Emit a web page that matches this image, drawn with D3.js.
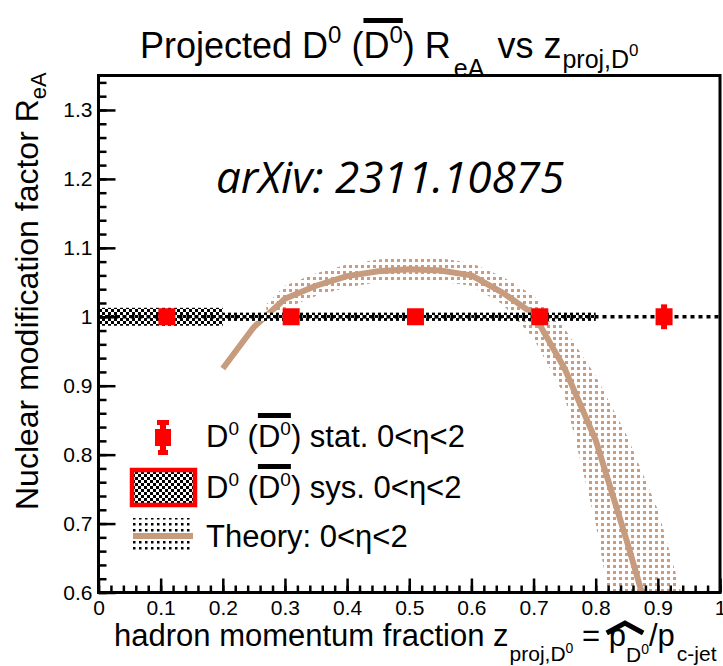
<!DOCTYPE html>
<html>
<head>
<meta charset="utf-8">
<script src="https://cdn.jsdelivr.net/npm/d3@7"></script>
<style>
  html, body { margin: 0; padding: 0; background: #fff; overflow: hidden; }
  text { font-family: "Liberation Sans", Arial, Helvetica, sans-serif; white-space: pre; fill: #000; }
</style>
</head>
<body>
<svg id="chart" width="723" height="666"></svg>
<script>
// ---- data ----
const xMajorTicks = [0, 0.1, 0.2, 0.3, 0.4, 0.5, 0.6, 0.7, 0.8, 0.9, 1];
const xTickLabels = ["0", "0.1", "0.2", "0.3", "0.4", "0.5", "0.6", "0.7", "0.8", "0.9", "1"];
const yMajorTicks = [0.6, 0.7, 0.8, 0.9, 1.0, 1.1, 1.2, 1.3];
const yTickLabels = ["0.6", "0.7", "0.8", "0.9", "1", "1.1", "1.2", "1.3"];

// measured points (projected R_eA)
const pointX = [0.11, 0.31, 0.51, 0.71, 0.91];
const pointY = [1.0, 1.0, 1.0, 1.0, 1.0];
const statErr = [0.005, 0.005, 0.005, 0.005, 0.018];

// systematic boxes (bin edges and half-height)
const sysLow = [0.0, 0.2, 0.4, 0.6];
const sysHigh = [0.2, 0.4, 0.6, 0.8];
const sysCenter = [1.0, 1.0, 1.0, 1.0];
const sysErr = [0.013, 0.006, 0.006, 0.006];

// theory central curve
const theoryX = [0.2, 0.25, 0.3, 0.35, 0.4, 0.45, 0.5, 0.55, 0.6, 0.65, 0.7, 0.75, 0.8, 0.85, 0.9];
const theoryY = [0.925, 0.985, 1.026, 1.045, 1.059, 1.066, 1.069, 1.067, 1.060, 1.035, 1.004, 0.925, 0.821, 0.675, 0.52];

// theory uncertainty band
const bandX  = [0.27, 0.3, 0.35, 0.4, 0.45, 0.5, 0.55, 0.6, 0.65, 0.7, 0.75, 0.8, 0.85, 0.9, 0.95];
const bandLo = [1.0, 1.012, 1.03, 1.043, 1.05, 1.053, 1.051, 1.045, 1.018, 0.969, 0.885, 0.70, 0.45, 0.3, 0.2];
const bandHi = [1.018, 1.045, 1.063, 1.076, 1.083, 1.086, 1.085, 1.078, 1.058, 1.031, 0.983, 0.914, 0.828, 0.72, 0.56];

const refLine = 1.0;

(function draw() {
  const theoryColor = "#c79b7d";
  const dotColor = "#c99c7e";
  const svg = d3.select("#chart");
  const pl = 98.5, pr = 720, pt = 75.5, pb = 592.5;

  const x = d3.scaleLinear().domain([0, 1]).range([pl, pr]);
  const y = d3.scaleLinear().domain([0.6, 1.35]).range([pb, pt]);

  // fill patterns
  const defs = svg.append("defs");
  const checker = defs.append("pattern").attr("id", "checker")
    .attr("patternUnits", "userSpaceOnUse").attr("width", 6).attr("height", 6);
  checker.append("rect").attr("width", 6).attr("height", 6).attr("fill", "#fff");
  checker.append("rect").attr("x", 0).attr("y", 0).attr("width", 3).attr("height", 3).attr("fill", "#000");
  checker.append("rect").attr("x", 3).attr("y", 3).attr("width", 3).attr("height", 3).attr("fill", "#000");

  const brownDots = defs.append("pattern").attr("id", "brownDots")
    .attr("patternUnits", "userSpaceOnUse").attr("width", 6).attr("height", 6);
  brownDots.append("rect").attr("x", 1).attr("y", 1).attr("width", 3).attr("height", 3)
    .attr("fill", dotColor);

  const blackDots = defs.append("pattern").attr("id", "blackDots")
    .attr("patternUnits", "userSpaceOnUse").attr("width", 6).attr("height", 6);
  blackDots.append("rect").attr("width", 6).attr("height", 6).attr("fill", "#fff");
  blackDots.append("rect").attr("x", 1).attr("y", 1).attr("width", 2.5).attr("height", 2.5).attr("fill", "#000");

  defs.append("clipPath").attr("id", "plotClip").append("rect")
    .attr("x", pl).attr("y", pt).attr("width", pr - pl).attr("height", pb - pt);

  // ---- data layers ----
  const plot = svg.append("g").attr("clip-path", "url(#plotClip)");

  const bandData = bandX.map((d, i) => ({ x: d, lo: bandLo[i], hi: bandHi[i] }));
  plot.append("path").datum(bandData)
    .attr("fill", "url(#brownDots)")
    .attr("d", d3.area().x(d => x(d.x)).y0(d => y(d.lo)).y1(d => y(d.hi)));

  const theoryData = theoryX.map((d, i) => ({ x: d, y: theoryY[i] }));
  plot.append("path").datum(theoryData)
    .attr("fill", "none").attr("stroke", theoryColor).attr("stroke-width", 6)
    .attr("stroke-linejoin", "round")
    .attr("d", d3.line().x(d => x(d.x)).y(d => y(d.y)));

  plot.selectAll("rect.sys")
    .data(sysLow.map((d, i) => ({ lo: d, hi: sysHigh[i], c: sysCenter[i], e: sysErr[i] })))
    .join("rect").attr("class", "sys")
    .attr("x", d => x(d.lo)).attr("width", d => x(d.hi) - x(d.lo))
    .attr("y", d => y(d.c + d.e)).attr("height", d => y(d.c - d.e) - y(d.c + d.e))
    .attr("fill", "url(#checker)");

  plot.append("line")
    .attr("x1", pl).attr("x2", pr).attr("y1", y(refLine)).attr("y2", y(refLine))
    .attr("stroke", "#000").attr("stroke-width", 3.5).attr("stroke-dasharray", "4,4");

  const pts = pointX.map((d, i) => ({ x: d, y: pointY[i], e: statErr[i] }));
  plot.selectAll("rect.err").data(pts).join("rect").attr("class", "err")
    .attr("x", d => x(d.x) - 3).attr("width", 6)
    .attr("y", d => y(d.y + d.e)).attr("height", d => y(d.y - d.e) - y(d.y + d.e))
    .attr("fill", "#ff0000");
  plot.selectAll("rect.mk").data(pts).join("rect").attr("class", "mk")
    .attr("x", d => x(d.x) - 8.5).attr("y", d => y(d.y) - 8.5)
    .attr("width", 17).attr("height", 17).attr("fill", "#ff0000");

  // ---- axes ----
  function styleAxis(g) {
    g.select(".domain").remove();
    g.selectAll(".tick line").attr("stroke", "#000").attr("stroke-width", 2.5);
    g.selectAll(".tick text").style("font-size", "21px").attr("fill", "#000")
      .style("font-family", '"Liberation Sans", Arial, sans-serif');
  }
  const dropLabels = g => g.selectAll(".tick text").remove();

  svg.append("g").attr("transform", `translate(0,${pb})`)
    .call(d3.axisBottom(x).tickValues(x.ticks(50)).tickSizeInner(-7).tickSizeOuter(0))
    .call(styleAxis).call(dropLabels);
  svg.append("g").attr("transform", `translate(0,${pb})`)
    .call(d3.axisBottom(x).tickValues(xMajorTicks).tickSizeInner(-14).tickSizeOuter(0).tickPadding(8)
      .tickFormat((d, i) => xTickLabels[i]))
    .call(styleAxis);

  svg.append("g").attr("transform", `translate(${pl},0)`)
    .call(d3.axisLeft(y).tickValues(y.ticks(37)).tickSizeInner(-8).tickSizeOuter(0))
    .call(styleAxis).call(dropLabels);
  svg.append("g").attr("transform", `translate(${pl},0)`)
    .call(d3.axisLeft(y).tickValues(yMajorTicks).tickSizeInner(-17).tickSizeOuter(0).tickPadding(6)
      .tickFormat((d, i) => yTickLabels[i]))
    .call(styleAxis);

  svg.append("rect").attr("x", pl).attr("y", pt).attr("width", pr - pl).attr("height", pb - pt)
    .attr("fill", "none").attr("stroke", "#000").attr("stroke-width", 3);

  // lays out text runs left to right, returning each run's extent
  function rich(g, parts, x0, baseline) {
    let cx = x0;
    const ext = [];
    parts.forEach(p => {
      const t = g.append("text")
        .attr("x", cx).attr("y", baseline + (p.dy || 0))
        .style("font-size", p.size + "px")
        .text(p.t);
      const w = t.node().getComputedTextLength();
      ext.push({ x0: cx, x1: cx + w });
      cx += w + (p.gap || 0);
    });
    return { ext, end: cx };
  }

  // title
  const title = svg.append("g");
  const tl = rich(title, [
    { t: "Projected D", size: 36 },
    { t: "0", size: 24, dy: -15 },
    { t: " (", size: 36 },
    { t: "D", size: 36 },
    { t: "0", size: 24, dy: -15 },
    { t: ") R", size: 36, gap: 3 },
    { t: "eA", size: 25, dy: 19, gap: 3 },
    { t: " vs z", size: 36, gap: 1 },
    { t: "proj,D", size: 25, dy: 10 },
    { t: "0", size: 17, dy: -2 }
  ], 140, 58);
  title.append("rect").attr("x", tl.ext[3].x0).attr("width", tl.ext[4].x1 - tl.ext[3].x0)
    .attr("y", 18).attr("height", 5).attr("fill", "#000");

  // annotation
  svg.append("text").attr("x", 390).attr("y", 193).attr("text-anchor", "middle")
    .style("font-family", '"Open Sans", "Noto Sans", sans-serif')
    .style("font-style", "italic").style("font-size", "44px")
    .text("arXiv: 2311.10875");

  // y axis title
  const yt = svg.append("g").attr("transform", "translate(38,510) rotate(-90)");
  rich(yt, [
    { t: "Nuclear modification factor R", size: 32 },
    { t: "eA", size: 22, dy: 8 }
  ], 0, 0);

  // x axis title
  const xt = svg.append("g");
  const xl = rich(xt, [
    { t: "hadron momentum fraction z", size: 31, gap: 1 },
    { t: "proj,D", size: 21, dy: 15 },
    { t: "0", size: 14, dy: 7 },
    { t: " = ", size: 31 },
    { t: "p", size: 31 },
    { t: "D", size: 21, dy: 16 },
    { t: "0", size: 14, dy: 8 },
    { t: "/p", size: 31, gap: 2 },
    { t: "c-jet", size: 21, dy: 15 }
  ], 114, 646);
  const hx0 = xl.ext[4].x0 - 2, hx1 = xl.ext[5].x1 + 2;
  const hm = (hx0 + hx1) / 2;
  xt.append("path")
    .attr("d", `M${hx0},633 L${hm},623 L${hx1},633`)
    .attr("fill", "none").attr("stroke", "#000").attr("stroke-width", 5);

  // ---- legend ----
  const lg = svg.append("g");
  lg.append("rect").attr("x", 157).attr("y", 420).attr("width", 12).attr("height", 5).attr("fill", "#ff0000");
  lg.append("rect").attr("x", 160).attr("y", 420).attr("width", 6).attr("height", 35).attr("fill", "#ff0000");
  lg.append("rect").attr("x", 155).attr("y", 429).attr("width", 16).attr("height", 17).attr("fill", "#ff0000");
  lg.append("rect").attr("x", 158).attr("y", 450).attr("width", 10).attr("height", 5).attr("fill", "#ff0000");
  const l1 = rich(lg, [
    { t: "D", size: 31 }, { t: "0", size: 19, dy: -12 }, { t: " (", size: 31 },
    { t: "D", size: 31 }, { t: "0", size: 19, dy: -12 }, { t: ") stat. 0<η<2", size: 31 }
  ], 206, 447);
  lg.append("rect").attr("x", l1.ext[3].x0).attr("width", l1.ext[4].x1 - l1.ext[3].x0)
    .attr("y", 413).attr("height", 5).attr("fill", "#000");

  lg.append("rect").attr("x", 132).attr("y", 470).attr("width", 63).attr("height", 35)
    .attr("fill", "url(#checker)").attr("stroke", "#ff0000").attr("stroke-width", 4.5);
  const l2 = rich(lg, [
    { t: "D", size: 31 }, { t: "0", size: 19, dy: -12 }, { t: " (", size: 31 },
    { t: "D", size: 31 }, { t: "0", size: 19, dy: -12 }, { t: ") sys. 0<η<2", size: 31 }
  ], 206, 498);
  lg.append("rect").attr("x", l2.ext[3].x0).attr("width", l2.ext[4].x1 - l2.ext[3].x0)
    .attr("y", 464).attr("height", 5).attr("fill", "#000");

  lg.append("rect").attr("x", 133).attr("y", 518).attr("width", 60).attr("height", 35)
    .attr("fill", "url(#blackDots)");
  lg.append("line").attr("x1", 133).attr("x2", 193).attr("y1", 536).attr("y2", 536)
    .attr("stroke", theoryColor).attr("stroke-width", 6);
  rich(lg, [{ t: "Theory: 0<η<2", size: 31 }], 206, 547);
})();
</script>
</body>
</html>
